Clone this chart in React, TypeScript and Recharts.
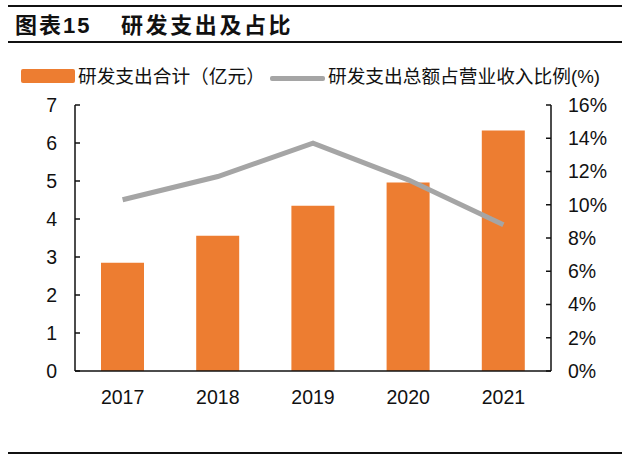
import React from 'react';
import { ComposedChart, Bar, Line, XAxis, YAxis } from 'recharts';

const years = ['2017', '2018', '2019', '2020', '2021'];
const rdSpend = [2.85, 3.56, 4.35, 4.96, 6.33];
const rdRatio = [10.3, 11.7, 13.7, 11.5, 8.8];
const leftTicks = [0, 1, 2, 3, 4, 5, 6, 7];
const rightTicks = [0, 2, 4, 6, 8, 10, 12, 14, 16];
const boundaryTicks = [1, 2, 3, 4];

const titleLabel = '图表15';
const titleText = '研发支出及占比';
const barName = '研发支出合计（亿元）';
const lineName = '研发支出总额占营业收入比例(%)';

const data = years.map((y, i) => ({ year: y, spend: rdSpend[i], ratio: rdRatio[i] }));

const numFont = '"Liberation Sans", Arial, sans-serif';
const cjkFont = '"Liberation Sans", Arial, "Noto Sans CJK SC", sans-serif';

export default function App() {
  const tickStyle = { fontSize: 19.5, fill: '#111', fontFamily: numFont };
  return (
    <div style={{ position: 'absolute', left: 0, top: 0, width: 640, height: 454, background: '#fff', overflow: 'hidden' }}>
      <div style={{ position: 'absolute', left: 8, top: 5, width: 614, height: 2, background: '#111' }} />
      <div style={{ position: 'absolute', left: 15, top: 11, fontFamily: cjkFont, fontWeight: 'bold', fontSize: 22, color: '#111', letterSpacing: 2, whiteSpace: 'pre', lineHeight: '30px' }}>
        {titleLabel}
      </div>
      <div style={{ position: 'absolute', left: 121, top: 11, fontFamily: cjkFont, fontWeight: 'bold', fontSize: 22, color: '#111', letterSpacing: 2.6, whiteSpace: 'pre', lineHeight: '30px' }}>
        {titleText}
      </div>
      <div style={{ position: 'absolute', left: 8, top: 41, width: 614, height: 2, background: '#111' }} />
      <div style={{ position: 'absolute', left: 8, top: 452, width: 614, height: 2, background: '#111' }} />

      <div style={{ position: 'absolute', left: 21, top: 69, width: 54, height: 14, background: '#ED7D31', borderRadius: 2 }} />
      <div style={{ position: 'absolute', left: 78, top: 64, fontFamily: cjkFont, fontSize: 18.7, color: '#111', whiteSpace: 'pre', lineHeight: '26px' }}>
        {barName}
      </div>
      <div style={{ position: 'absolute', left: 270, top: 76, width: 55, height: 5, background: '#A5A5A5', borderRadius: 2 }} />
      <div style={{ position: 'absolute', left: 328, top: 64, fontFamily: cjkFont, fontSize: 18.7, color: '#111', whiteSpace: 'pre', lineHeight: '26px' }}>
        {lineName}
      </div>

      <div style={{ position: 'absolute', left: 0, top: 0 }}>
        <ComposedChart width={640} height={454} data={data} margin={{ top: 105, right: 29, bottom: 53, left: 25 }}>
          <XAxis
            xAxisId="edges"
            type="number"
            domain={[0, 5]}
            allowDataOverflow
            ticks={boundaryTicks}
            tick={false}
            axisLine={false}
            tickSize={-5}
            height={0}
            tickLine={{ stroke: '#111', strokeWidth: 1.5 }}
          />
          <XAxis
            dataKey="year"
            height={30}
            tickLine={false}
            axisLine={{ stroke: '#111', strokeWidth: 1.5 }}
            tick={tickStyle}
            tickMargin={13}
          />
          <YAxis
            yAxisId="left"
            domain={[0, 7]}
            ticks={leftTicks}
            interval={0}
            width={50}
            tickSize={-5}
            tickMargin={23}
            axisLine={{ stroke: '#111', strokeWidth: 1.5 }}
            tickLine={{ stroke: '#111', strokeWidth: 1.5 }}
            tick={tickStyle}
          />
          <YAxis
            yAxisId="right"
            orientation="right"
            domain={[0, 16]}
            ticks={rightTicks}
            interval={0}
            width={60}
            tickSize={-5}
            tickMargin={22}
            tickFormatter={(v: number) => `${v}%`}
            axisLine={{ stroke: '#111', strokeWidth: 1.5 }}
            tickLine={{ stroke: '#111', strokeWidth: 1.5 }}
            tick={tickStyle}
          />
          <Bar yAxisId="left" dataKey="spend" fill="#ED7D31" barSize={43} isAnimationActive={false} />
          <Line yAxisId="right" dataKey="ratio" stroke="#A5A5A5" strokeWidth={5} dot={false} activeDot={false} isAnimationActive={false} />
        </ComposedChart>
      </div>
    </div>
  );
}
